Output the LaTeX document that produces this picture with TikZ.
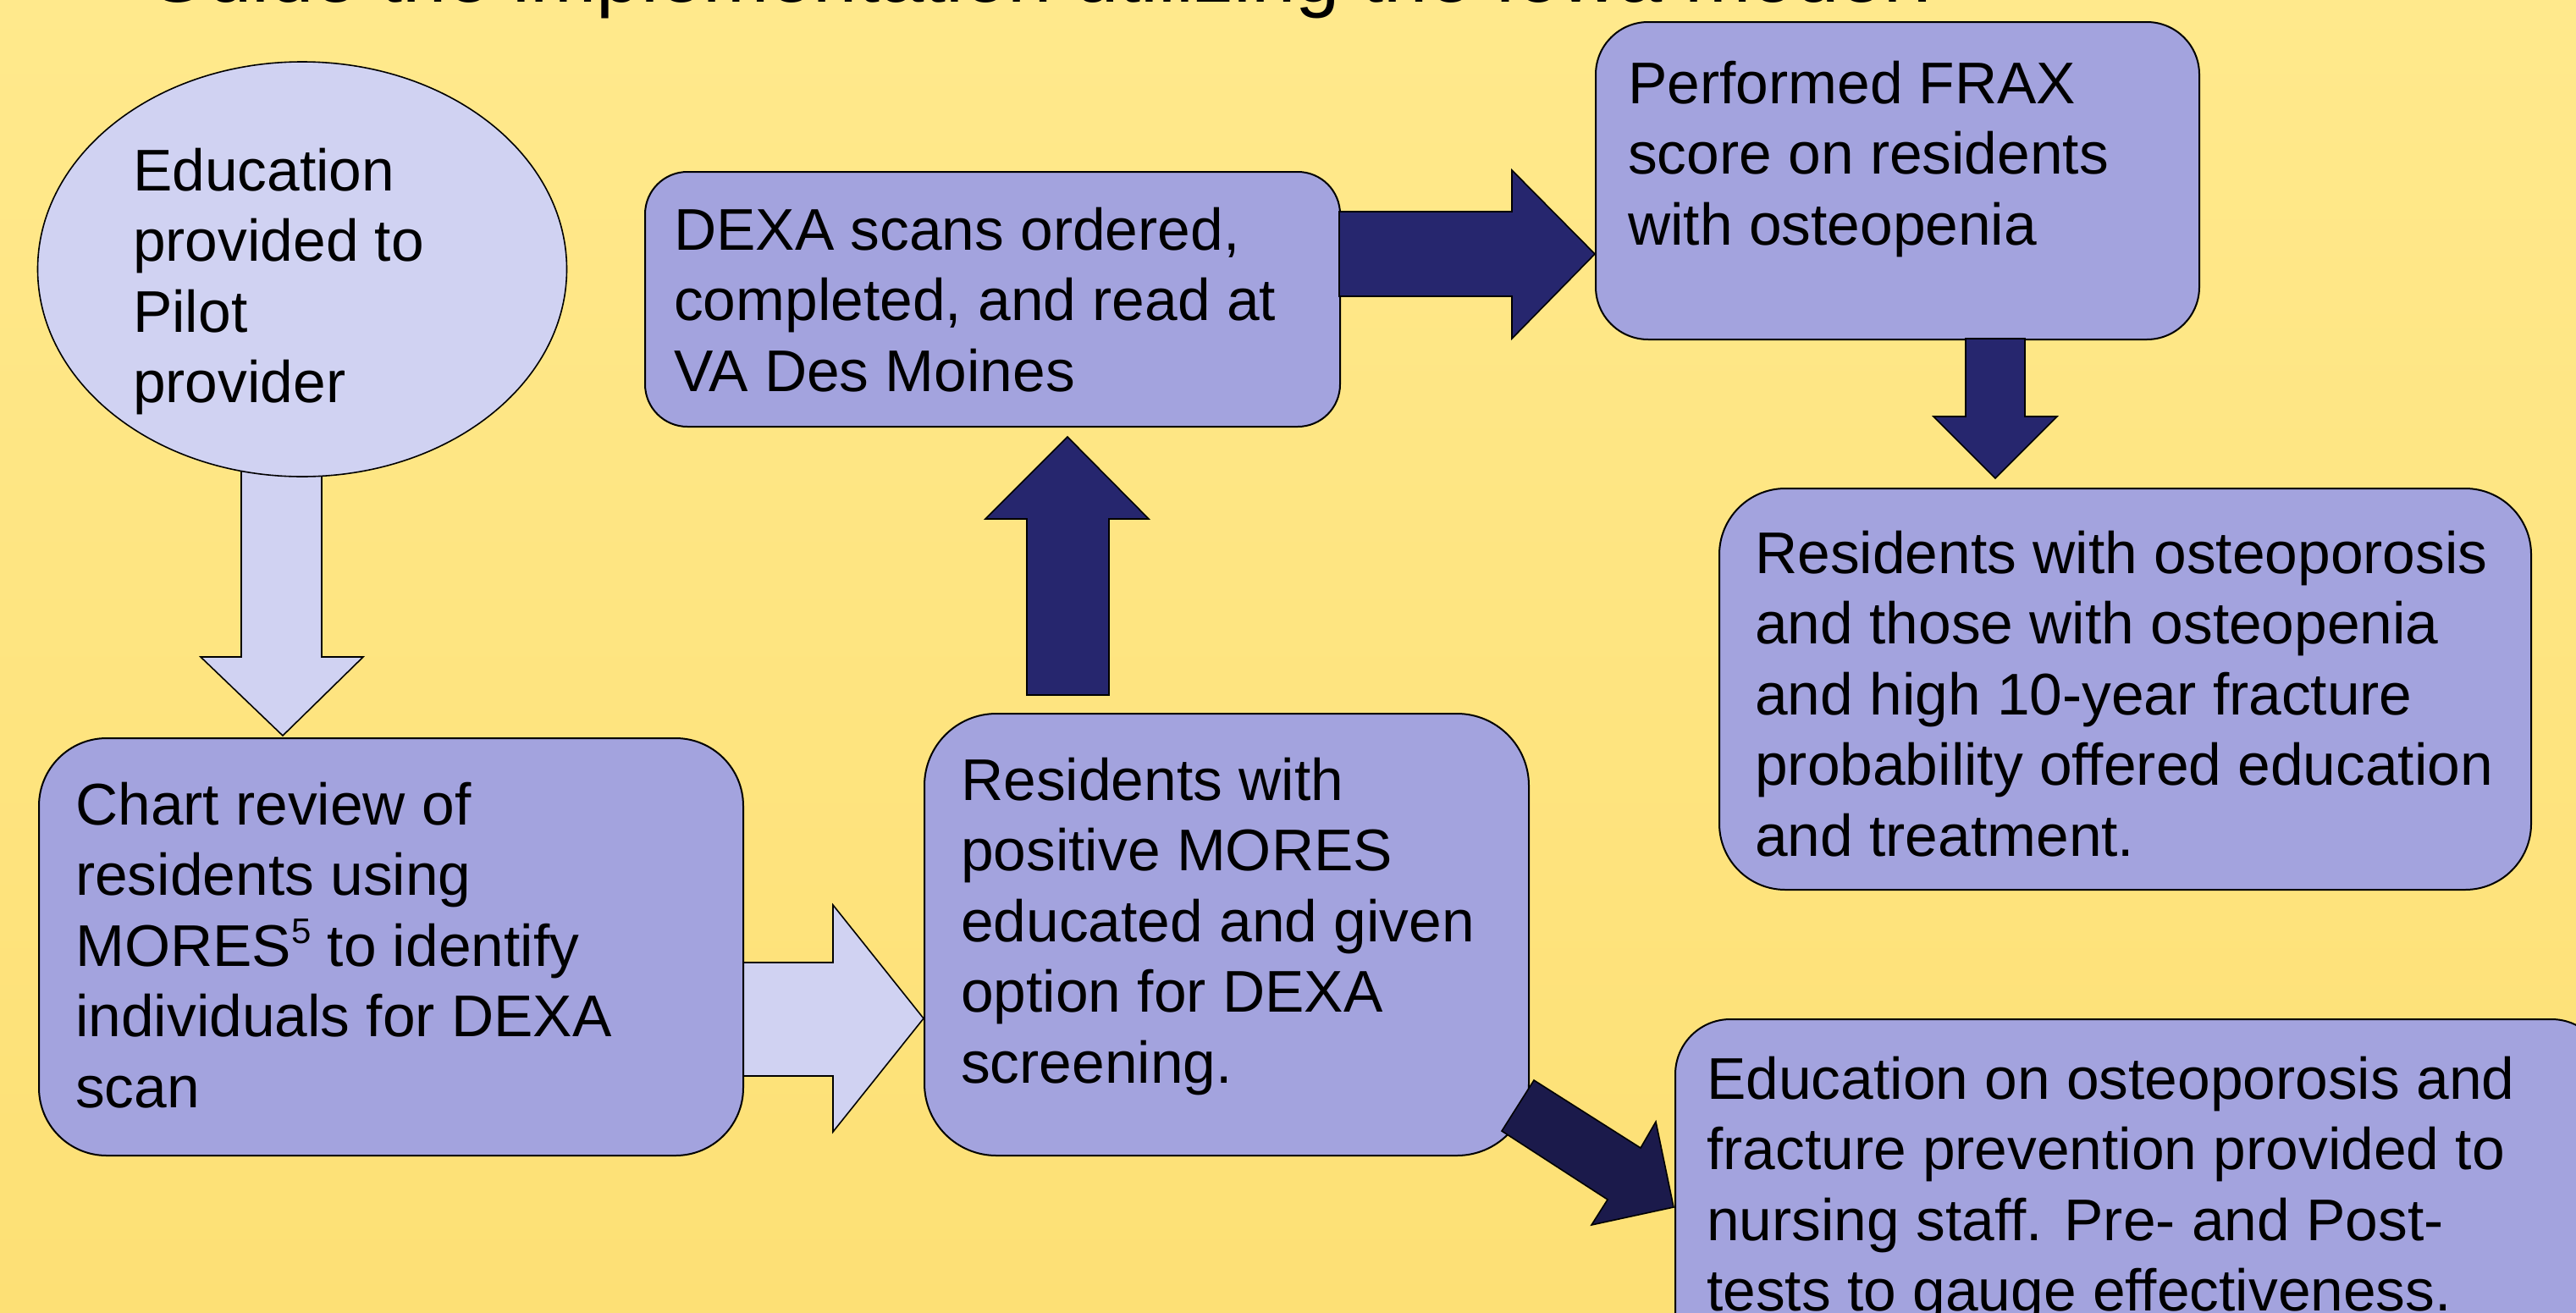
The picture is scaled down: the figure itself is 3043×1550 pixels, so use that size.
\documentclass[tikz,border=0pt]{standalone}
\usepackage{fontspec}
\setmainfont{Liberation Sans}
\usetikzlibrary{shapes.geometric}
\definecolor{bgtop}{RGB}{255,233,140}
\definecolor{bgbot}{RGB}{253,224,117}
\definecolor{boxfill}{RGB}{163,163,222}
\definecolor{lightfill}{RGB}{208,210,242}
\definecolor{navy}{RGB}{38,38,110}
\definecolor{darknavy}{RGB}{27,26,75}
\newcommand\lines[1]{\begin{tabular}[t]{@{}l@{}}#1\end{tabular}}
\newcommand\supfive{\raisebox{0.38em}{\fontsize{42}{42}\selectfont 5}}
\begin{document}
\begin{tikzpicture}[x=1pt,y=-1pt,
  box/.style={draw=black, line width=2pt, fill=boxfill, inner sep=0pt, anchor=north west},
  lightshape/.style={draw=black, line width=1.6pt, fill=lightfill, line join=miter},
  navyarrow/.style={draw=black, line width=1.6pt, fill=navy, line join=miter},
  darkarrow/.style={draw=black, line width=1.6pt, fill=darknavy, line join=miter},
  txt/.style={anchor=base west, inner sep=0pt, font=\fontsize{69.5}{83.5}\selectfont}
]
\useasboundingbox (0,0) rectangle (3043,1550);
\clip (0,0) rectangle (3043,1550);
\shade[top color=bgtop, bottom color=bgbot] (0,0) rectangle (3043,1550);

% title (cut off at top)
\node[anchor=base west, inner sep=0pt, font=\fontsize{94}{100}\selectfont] (title) at (172,2) {Guide the implementation utilizing the Iowa model?};

% light arrows
\draw[lightshape] (285,500) -- (285,776) -- (237,776) -- (334,869) -- (429,776) -- (380,776) -- (380,500) -- cycle;
\draw[lightshape] (877,1137) -- (984,1137) -- (984,1069) -- (1091,1203) -- (984,1337) -- (984,1271) -- (877,1271) -- cycle;

% ellipse
\node[lightshape, ellipse, minimum width=625, minimum height=490, inner sep=0pt] (edu) at (357,318) {};
\node[txt] (edutxt) at (157,225) {\lines{Education\\provided to\\Pilot\\provider}};

% boxes
\node[box, rounded corners=80, minimum width=832, minimum height=493] (chart) at (45,871) {};
\node[txt] (charttxt) at (89,974) {\lines{Chart review of\\residents using\\MORES\supfive{} to identify\\individuals for DEXA\\scan}};

\node[box, rounded corners=85, minimum width=714, minimum height=522] (mores) at (1091,842) {};
\node[txt] (morestxt) at (1135,945) {\lines{Residents with\\positive MORES\\educated and given\\option for DEXA\\screening.}};

\node[box, rounded corners=50, minimum width=821, minimum height=301] (dexa) at (761,202) {};
\node[txt] (dexatxt) at (796,295) {\lines{DEXA scans ordered,\\completed, and read at\\VA Des Moines}};

\node[box, rounded corners=62, minimum width=713, minimum height=375] (frax) at (1884,25) {};
\node[txt] (fraxtxt) at (1923,122) {\lines{Performed FRAX\\score on residents\\with osteopenia}};

\node[box, rounded corners=78, minimum width=959, minimum height=474] (treat) at (2030,576) {};
\node[txt] (treattxt) at (2073,677) {\lines{Residents with osteoporosis\\and those with osteopenia\\and high 10-year fracture\\probability offered education\\and treatment.}};

\node[box, rounded corners=65, minimum width=1100, minimum height=500] (staff) at (1978,1203) {};
\node[txt] (stafftxt) at (2016,1298) {\lines{Education on osteoporosis and\\fracture prevention provided to\\nursing staff. Pre- and Post-\\tests to gauge effectiveness.}};

% navy arrows
\draw[navyarrow] (1213,821) -- (1213,613) -- (1164,613) -- (1261,516) -- (1357,613) -- (1310,613) -- (1310,821) -- cycle;
\draw[navyarrow] (1582,250) -- (1786,250) -- (1786,201) -- (1884,300) -- (1786,400) -- (1786,350) -- (1582,350) -- cycle;
\draw[navyarrow] (2322,400) -- (2322,492) -- (2284,492) -- (2357,565) -- (2430,492) -- (2392,492) -- (2392,400) -- cycle;
\draw[darkarrow] (1812,1276) -- (1938,1356) -- (1956,1325) -- (1977,1426) -- (1880,1447) -- (1899,1417) -- (1774,1336) -- cycle;
\end{tikzpicture}
\end{document}
